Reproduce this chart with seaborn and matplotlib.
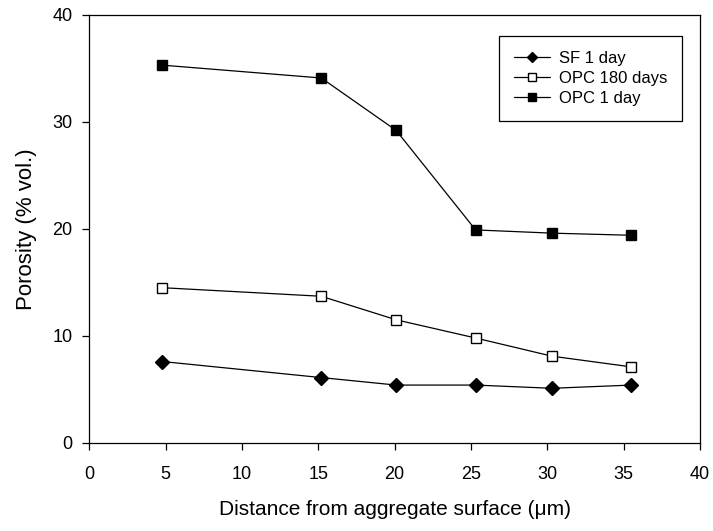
import matplotlib as mpl
mpl.use('Agg')
import matplotlib.pyplot as plt
import seaborn as sns
import pandas as pd

# values
distance = [4.8, 15.2, 20.1, 25.3, 30.3, 35.5]
sf_1day = [7.6, 6.1, 5.4, 5.4, 5.1, 5.4]
opc_180days = [14.5, 13.7, 11.5, 9.8, 8.1, 7.1]
opc_1day = [35.3, 34.1, 29.2, 19.9, 19.6, 19.4]

series = ['SF 1 day', 'OPC 180 days', 'OPC 1 day']
values = [sf_1day, opc_180days, opc_1day]

df = pd.concat([pd.DataFrame({'distance': distance, 'porosity': v, 'mix': s})
                for s, v in zip(series, values)], ignore_index=True)

sns.set_style('white')
plt.rcParams['font.family'] = ['Liberation Sans', 'DejaVu Sans']
for k in ['text.color', 'axes.labelcolor', 'xtick.color', 'ytick.color']:
    plt.rcParams[k] = 'black'

fig = plt.figure(figsize=(7.13, 5.31), dpi=100)
ax = fig.add_axes([0.125, 0.166, 0.857, 0.806])

styles = {
    'SF 1 day': dict(marker='D', markerfacecolor='black', markersize=7),
    'OPC 180 days': dict(marker='s', markerfacecolor='white', markersize=7),
    'OPC 1 day': dict(marker='s', markerfacecolor='black', markersize=7),
}
for s in series:
    sns.lineplot(data=df[df['mix'] == s], x='distance', y='porosity', ax=ax,
                 color='black', linewidth=0.9, markeredgecolor='black',
                 markeredgewidth=1.0, label=s, **styles[s])

ax.set_xlim(0, 40)
ax.set_ylim(0, 40)
ax.set_xticks(range(0, 41, 5))
ax.set_yticks(range(0, 41, 10))
ax.tick_params(axis='both', which='both', direction='out', length=5, width=0.9,
               labelsize=13, color='black', bottom=True, left=True, top=False, right=False)
ax.tick_params(axis='x', pad=12)
ax.tick_params(axis='y', pad=7)
for sp in ax.spines.values():
    sp.set_color('black')
    sp.set_linewidth(0.9)

ax.set_xlabel('Distance from aggregate surface (μm)', fontsize=15, labelpad=12)
ax.set_ylabel('Porosity (% vol.)', fontsize=16, labelpad=11)

leg = ax.legend(loc='upper right', bbox_to_anchor=(0.9705, 0.951), borderaxespad=0,
                fontsize=12, frameon=True, fancybox=False, edgecolor='black',
                framealpha=1, handlelength=2.2, handletextpad=0.5,
                borderpad=0.9, labelspacing=0.3, markerscale=0.8)
leg.get_frame().set_linewidth(0.9)

fig.savefig('out.png', dpi=100)
